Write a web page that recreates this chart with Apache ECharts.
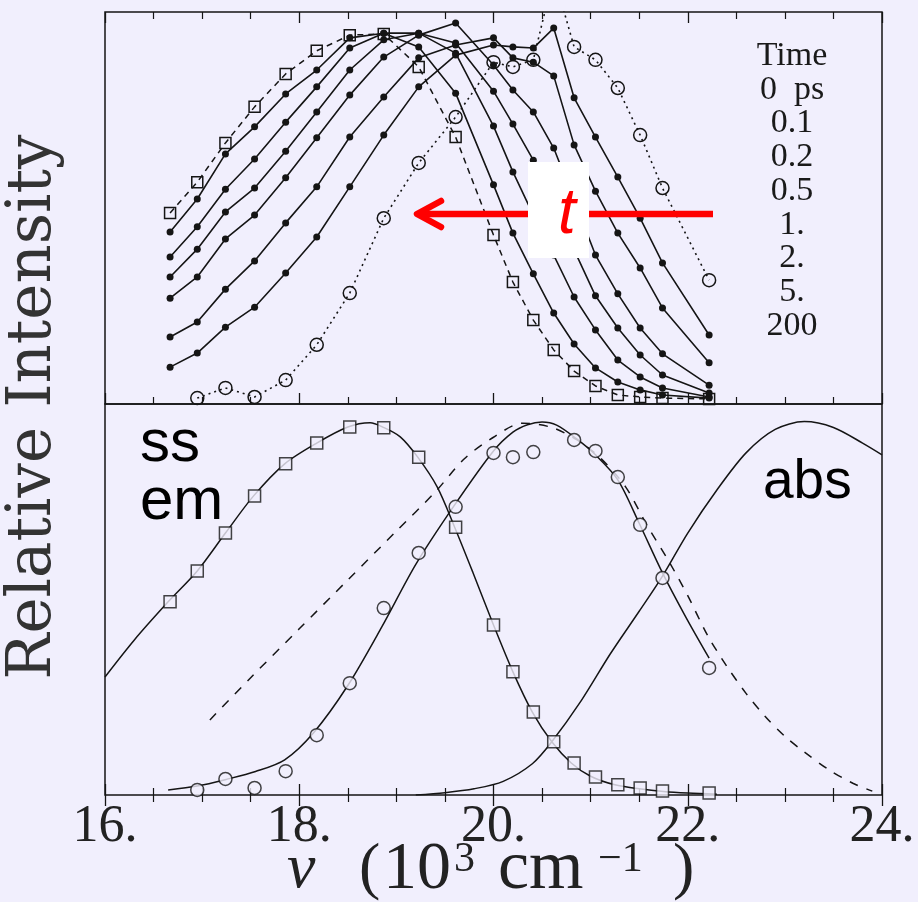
<!DOCTYPE html>
<html><head><meta charset="utf-8">
<script src="https://cdn.jsdelivr.net/npm/echarts@6/dist/echarts.min.js"></script>
<style>html,body{margin:0;padding:0;background:#f1effd;}#c{width:918px;height:902px;}</style>
</head><body><div id="c"></div>
<script>
// ---- data (wavenumber in 10^3 cm^-1, normalized intensity) ----
const nuTop = [16.67,16.95,17.24,17.54,17.86,18.18,18.52,18.87,19.23,19.61,20.00,20.20,20.41,20.62,20.83,21.05,21.28,21.51,21.74,22.22];
const top200ps = [0.487,0.566,0.666,0.758,0.842,0.901,0.941,0.944,0.860,0.681,0.431,0.311,0.214,0.138,0.084,0.046,0.023,0.018,0.015,0.013];
const top5ps   = [0.439,0.523,0.638,0.707,0.791,0.852,0.934,0.946,0.911,0.793,0.559,0.436,0.332,0.232,0.153,0.092,0.056,0.036,0.023,0.015];
const top2ps   = [0.375,0.452,0.548,0.625,0.719,0.809,0.908,0.946,0.946,0.895,0.709,0.592,0.482,0.380,0.273,0.189,0.112,0.069,0.041,0.018];
const top1ps   = [0.324,0.395,0.490,0.551,0.645,0.745,0.852,0.929,0.946,0.921,0.798,0.714,0.622,0.508,0.393,0.276,0.194,0.125,0.074,0.028];
const top05ps  = [0.270,0.324,0.421,0.482,0.577,0.679,0.788,0.885,0.941,0.972,0.865,0.801,0.745,0.653,0.520,0.380,0.281,0.194,0.128,0.048];
const top02ps  = [0.171,0.209,0.293,0.365,0.462,0.554,0.681,0.783,0.883,0.916,0.934,0.883,0.872,0.837,0.661,0.543,0.436,0.347,0.245,0.105];
const top01ps  = [0.094,0.130,0.196,0.247,0.334,0.426,0.554,0.686,0.809,0.890,0.916,0.911,0.908,0.959,0.781,0.681,0.579,0.474,0.360,0.176];
const top0ps   = [null,0.015,0.041,0.018,0.061,0.151,0.283,0.474,0.615,0.732,0.872,0.860,0.878,1.094,0.911,0.878,0.806,0.686,0.551,0.316];

const ssEm = [0.494,0.573,0.670,0.765,0.847,0.900,0.941,0.939,0.864,0.685,0.435,0.315,0.212,0.136,0.082,0.046,0.026,0.018,0.010,0.005];
const t0Em = [null,0.013,0.041,0.018,0.061,0.153,0.286,0.478,0.619,0.737,0.875,0.864,0.877,null,0.908,0.880,0.813,0.691,0.555,0.325];

const ssFitNu  = [16.0,16.3,16.65,16.95,17.24,17.53,17.85,18.18,18.5,18.73,18.86,19.04,19.22,19.42,19.6,19.79,20.0,20.2,20.4,20.6,20.8,21.0,21.25,21.5,21.75,22.0,22.3];
const ssFitVal = [0.302,0.396,0.494,0.573,0.670,0.765,0.847,0.900,0.941,0.952,0.941,0.916,0.864,0.788,0.685,0.568,0.435,0.315,0.212,0.136,0.082,0.048,0.026,0.016,0.009,0.005,0.002];

const t0FitNu  = [16.65,16.95,17.25,17.55,17.85,18.15,18.5,18.85,19.2,19.6,20.0,20.2,20.35,20.5,20.65,20.85,21.05,21.28,21.5,21.74,21.98,22.22];
const t0FitVal = [0.013,0.023,0.040,0.060,0.090,0.160,0.280,0.430,0.590,0.742,0.880,0.928,0.947,0.954,0.946,0.912,0.870,0.806,0.695,0.568,0.455,0.350];

const dashNu  = [17.08,17.5,18.0,18.5,19.0,19.4,19.7,20.0,20.3,20.6,20.86,21.1,21.36,21.58,21.8,22.0,22.2,22.4,22.6,22.8,23.0,23.2,23.45,23.7,23.9];
const dashVal = [0.192,0.300,0.425,0.550,0.675,0.775,0.860,0.915,0.951,0.940,0.908,0.862,0.788,0.690,0.600,0.510,0.410,0.330,0.260,0.200,0.150,0.110,0.065,0.030,0.010];

const absNu  = [19.2,19.5,19.8,20.1,20.4,20.6,20.9,21.2,21.5,21.74,22.0,22.3,22.6,22.9,23.2,23.5,23.8,24.0];
const absVal = [0.0,0.006,0.016,0.035,0.080,0.136,0.240,0.360,0.470,0.560,0.670,0.780,0.875,0.935,0.955,0.940,0.900,0.870];

const xTicks = [16, 18, 20, 22, 24];
const timeLabels = ['Time','0  ps','0.1','0.2','0.5','1.','2.','5.','200'];

// ---- chart ----
const BG = '#f1effd';
const INK = '#151515';
const pairs = (xs, ys) => xs.map((x, i) => [x, ys[i] == null ? null : ys[i]]);

function xAx(grid, pos, labels) {
  return {
    type: 'value', gridIndex: grid, position: pos, min: xTicks[0], max: xTicks[xTicks.length - 1], interval: 2,
    axisLine: { show: false },
    axisTick: { show: true, inside: true, length: 11, lineStyle: { color: INK, width: 1.3 } },
    minorTick: { show: true, splitNumber: 4, length: 7, lineStyle: { color: INK, width: 1.2 } },
    splitLine: { show: false }, minorSplitLine: { show: false },
    axisLabel: labels ? {
      show: true, margin: 6, formatter: v => v + '.', color: '#222',
      fontFamily: '"Liberation Serif", serif', fontSize: 52
    } : { show: false }
  };
}
function yAx(grid) {
  return { type: 'value', gridIndex: grid, min: 0, max: 1, show: false };
}
function dotLine(vals) {
  return {
    type: 'line', xAxisIndex: 0, yAxisIndex: 0, data: pairs(nuTop, vals), clip: true,
    symbol: 'circle', symbolSize: 7, showAllSymbol: true,
    itemStyle: { color: INK }, lineStyle: { color: INK, width: 1.6 }, z: 3
  };
}
function fitLine(xs, ys, dashed) {
  return {
    type: 'line', xAxisIndex: 3, yAxisIndex: 1, data: pairs(xs, ys), clip: true,
    showSymbol: false, smooth: 0.3,
    lineStyle: { color: INK, width: 1.5, type: dashed ? [9, 9] : 'solid' }, z: 2
  };
}
const hollow = { color: 'rgba(0,0,0,0)', borderColor: INK, borderWidth: 1.5 };
const hollowBg = { color: BG, borderColor: INK, borderWidth: 1.5 };

const series = [
  dotLine(top5ps), dotLine(top2ps), dotLine(top1ps), dotLine(top05ps), dotLine(top02ps), dotLine(top01ps),
  { type: 'line', xAxisIndex: 0, yAxisIndex: 0, data: pairs(nuTop, top200ps), clip: true,
    symbol: 'rect', symbolSize: 11, showAllSymbol: true, itemStyle: hollow,
    lineStyle: { color: INK, width: 1.5, type: [6, 5] }, z: 4 },
  { type: 'line', xAxisIndex: 0, yAxisIndex: 0, data: pairs(nuTop, top0ps), clip: true,
    symbol: 'circle', symbolSize: 13, showAllSymbol: true, itemStyle: hollow,
    lineStyle: { color: INK, width: 1.6, type: [2, 4] }, z: 4 },
  fitLine(ssFitNu, ssFitVal, false),
  fitLine(t0FitNu, t0FitVal, false),
  fitLine(dashNu, dashVal, true),
  fitLine(absNu, absVal, false),
  { type: 'scatter', xAxisIndex: 3, yAxisIndex: 1, data: pairs(nuTop, ssEm).filter(p => p[1] != null),
    symbol: 'rect', symbolSize: 12, itemStyle: hollowBg, z: 5 },
  { type: 'scatter', xAxisIndex: 3, yAxisIndex: 1, data: pairs(nuTop, t0Em).filter(p => p[1] != null),
    symbol: 'circle', symbolSize: 13, itemStyle: hollowBg, z: 5 }
];

function txt(x, y, text, font, fill, align, extra) {
  return Object.assign({
    type: 'text', x: x, y: y, z: 100,
    style: { text: text, font: font, fill: fill, textAlign: align || 'left', align: align || 'left',
             textVerticalAlign: 'middle', verticalAlign: 'middle' }
  }, extra || {});
}

const serif = '"Liberation Serif", serif';
const graphics = [
  // y axis title
  txt(34, 407, 'Relative Intensity', '61px "DejaVu Serif", serif', '#333', 'center', { rotation: Math.PI / 2 }),
  // x axis title pieces
  txt(287, 870, 'ν', 'italic 64px ' + serif, '#222', 'left'),
  txt(359, 870, '(', '64px ' + serif, '#222', 'left'),
  txt(383, 870, '10', '68px ' + serif, '#222', 'left'),
  txt(454, 860, '3', '42px ' + serif, '#222', 'left'),
  txt(498, 870, 'cm', '70px ' + serif, '#222', 'left'),
  txt(598, 860, '−1', '42px ' + serif, '#222', 'left'),
  txt(673, 870, ')', '64px ' + serif, '#222', 'left'),
  // panel labels
  txt(140, 444, 'ss', '60px "Liberation Sans", sans-serif', '#000', 'left'),
  txt(140, 502, 'em', '60px "Liberation Sans", sans-serif', '#000', 'left'),
  txt(763, 483, 'abs', '55px "Liberation Sans", sans-serif', '#000', 'left'),
  // red arrow with t
  { type: 'line', z: 100, shape: { x1: 713, y1: 214, x2: 418, y2: 214 }, style: { stroke: '#ff0000', lineWidth: 6.5 } },
  { type: 'polyline', z: 100, shape: { points: [[441, 201], [417, 214], [441, 227]] },
    style: { stroke: '#ff0000', lineWidth: 6.5, fill: null, lineJoin: 'round', lineCap: 'round' } },
  { type: 'rect', z: 101, shape: { x: 528, y: 162, width: 61, height: 96 }, style: { fill: '#ffffff' } },
  txt(567, 215, 't', 'italic 64px "Liberation Sans", sans-serif', '#ff0000', 'center', { z: 102 })
];
timeLabels.forEach((t, i) => graphics.push(txt(792, 56 + i * 33.75, t, '34px ' + serif, '#1a1a1a', 'center')));

const chart = echarts.init(document.getElementById('c'), null, { renderer: 'canvas' });
chart.setOption({
  backgroundColor: BG,
  animation: false,
  grid: [
    { left: 105, top: 12, width: 777, height: 392, show: true, borderColor: INK, borderWidth: 1.5, backgroundColor: 'transparent' },
    { left: 105, top: 404, width: 777, height: 391, show: true, borderColor: INK, borderWidth: 1.5, backgroundColor: 'transparent' }
  ],
  xAxis: [xAx(0, 'bottom', false), xAx(0, 'top', false), xAx(1, 'top', false), xAx(1, 'bottom', true)],
  yAxis: [yAx(0), yAx(1)],
  series: series,
  graphic: graphics
});
</script></body></html>
